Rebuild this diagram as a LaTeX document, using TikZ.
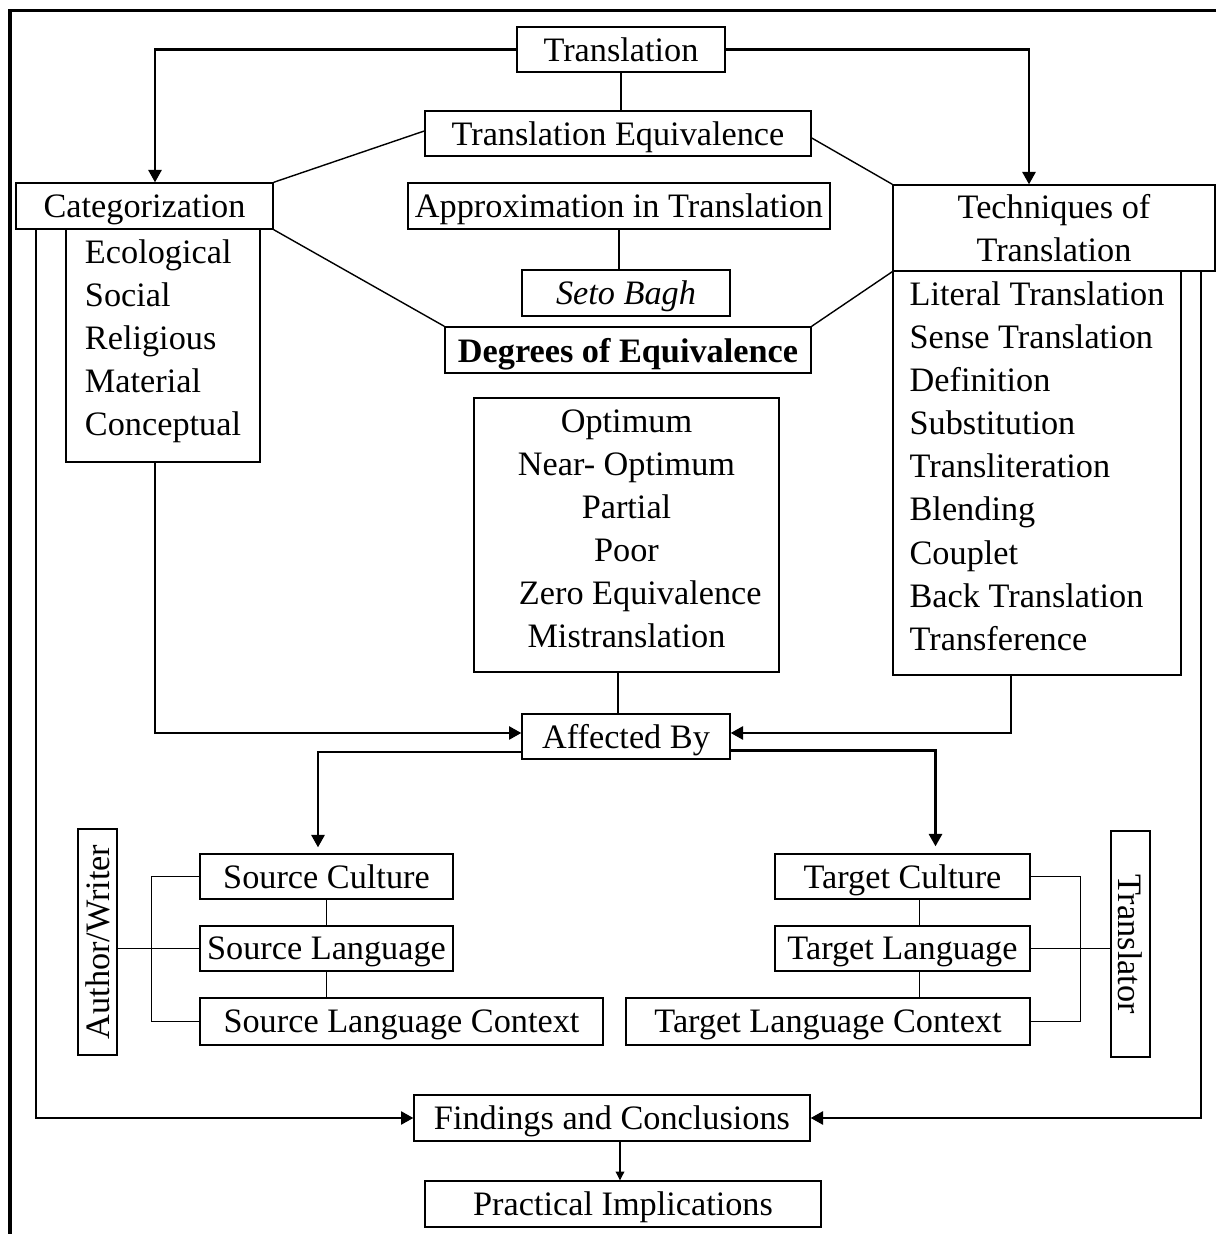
\documentclass[tikz,border=0pt]{standalone}
\usepackage{fontspec}
\setmainfont{Liberation Serif}
\usetikzlibrary{shapes,arrows.meta}

\begin{document}
\begin{tikzpicture}[
  base/.style={shape=rectangle,draw=black,line width=0.8pt,inner sep=0pt,font=\fontsize{19.5}{24.5}\selectfont},
  box/.style={base,align=center,text depth=0pt},
  listbox/.style={base,align=left},
  link/.style={-,draw=black,line width=0.8pt},
  flow/.style={draw=black,line width=1.2pt,-{Triangle[length=7pt,width=7.5pt]}}]
\useasboundingbox (0,0) rectangle (24.32,24.68);
\draw[line width=2.2pt] (24.32,24.47) -- (0.2,24.47) -- (0.2,0);

\node[box,minimum width=4.16cm,minimum height=0.9cm] (0) at (12.42,23.69) {Translation};
\node[box,minimum width=7.72cm,minimum height=0.9cm] (1) at (12.36,22.01) {Translation Equivalence};
\node[box,minimum width=5.14cm,minimum height=0.92cm] (2) at (2.89,20.56) {Categorization};
\node[listbox,minimum width=3.88cm,minimum height=4.66cm] (3) at (3.26,17.77) {Ecological\\Social\\Religious\\Material\\Conceptual\rule[-8.7pt]{0pt}{8.7pt}};
\node[box,minimum width=8.44cm,minimum height=0.92cm] (4) at (12.38,20.56) {Approximation in Translation};
\node[box,minimum width=4.16cm,minimum height=0.92cm] (5) at (12.52,18.82) {\textit{Seto Bagh}};
\node[box,minimum width=7.32cm,minimum height=0.92cm] (6) at (12.56,17.68) {\textbf{Degrees of Equivalence}};
\node[base,align=center,minimum width=6.44cm,minimum height=1.72cm] (7) at (21.08,20.12) {Techniques of\\Translation};
\node[listbox,minimum width=5.76cm,minimum height=8.08cm] (8) at (20.74,15.22) {Literal Translation\\Sense Translation\\Definition\\Substitution\\Transliteration\\Blending\\Couplet\\Back Translation\\Transference\rule[-7.9pt]{0pt}{7.9pt}};
\node[base,align=center,minimum width=6.1cm,minimum height=5.48cm] (9) at (12.53,13.98) {Optimum\\Near- Optimum\\Partial\\Poor\\\hspace*{0.55cm}Zero Equivalence\\Mistranslation\rule[-6.8pt]{0pt}{6.8pt}};
\node[box,minimum width=4.16cm,minimum height=0.9cm] (10) at (12.52,9.95) {Affected By};
\node[box,minimum width=5.06cm,minimum height=0.9cm] (11) at (6.53,7.15) {Source Culture};
\node[box,minimum width=5.06cm,minimum height=0.9cm] (12) at (6.53,5.71) {Source Language};
\node[box,minimum width=8.06cm,minimum height=0.94cm] (13) at (8.03,4.25) {Source Language Context};
\node[box,rotate=90,minimum width=4.52cm,minimum height=0.78cm] (14) at (1.95,5.84) {Author/Writer};
\node[box,minimum width=5.1cm,minimum height=0.9cm] (15) at (18.05,7.15) {Target Culture};
\node[box,minimum width=5.1cm,minimum height=0.9cm] (16) at (18.05,5.71) {Target Language};
\node[box,minimum width=8.08cm,minimum height=0.94cm] (17) at (16.56,4.25) {Target Language Context};
\node[box,rotate=-90,minimum width=4.52cm,minimum height=0.78cm] (18) at (22.61,5.80) {Translator};
\node[box,minimum width=7.92cm,minimum height=0.92cm] (19) at (12.24,2.32) {Findings and Conclusions};
\node[box,minimum width=7.92cm,minimum height=0.92cm] (20) at (12.46,0.60) {Practical Implications};

\draw[flow] (0.west) -| ([xshift=0.21cm]2.north);
\draw[flow] (0.east) -| ([xshift=-0.5cm]7.north);
\draw[link] (0.south) -- (0.south |- 1.north);
\path [link] ([yshift=0.05cm]1.west) edge (2.north east);
\path [link] ([yshift=-0.09cm]1.east) edge (7.north west);
\path [link] (2.south east) edge (6.north west);
\path [link] (7.south west) edge (6.north east);
\draw[link] (4.south) -- (4.south |- 5.north);
\draw[link] ([xshift=-0.17cm]9.south) -- ([xshift=-0.17cm]9.south |- 10.north);
\draw[flow] ([xshift=-0.16cm]3.south) |- ([yshift=0.07cm]10.west);
\draw[flow] ([xshift=-0.52cm]8.south) |- ([yshift=0.07cm]10.east);
\draw[flow,shorten >=0.12cm] ([yshift=-0.31cm]10.west) -| ([xshift=-0.17cm]11.north);
\draw[flow,shorten >=0.14cm] ([yshift=-0.28cm]10.east) -| ([xshift=0.66cm]15.north);
\draw[link] (11.south) -- (12.north);
\draw[link] (12.south) -- (12.south |- 13.north);
\draw[link] ([xshift=0.34cm]15.south) -- ([xshift=0.34cm]16.north);
\draw[link] ([xshift=0.34cm]16.south) -- ([xshift=0.34cm]16.south |- 17.north);
\draw[link] (11.west) -- ++(-0.96,0) |- (13.west);
\draw[link] (14.south |- 12.west) -- (12.west);
\draw[link] (15.east) -- ++(1.0,0) |- (17.east);
\draw[link] (16.east) -- (18.south |- 16.east);
\draw[flow] ([xshift=0.41cm]2.south west) |- (19.west);
\draw[flow] ([xshift=-0.3cm]7.south east) |- (19.east);
\draw[draw=black,line width=0.6pt,-{Triangle[length=5pt,width=5pt]}] ([xshift=0.16cm]19.south) -- ([xshift=0.16cm]19.south |- 20.north);
\end{tikzpicture}
\end{document}
